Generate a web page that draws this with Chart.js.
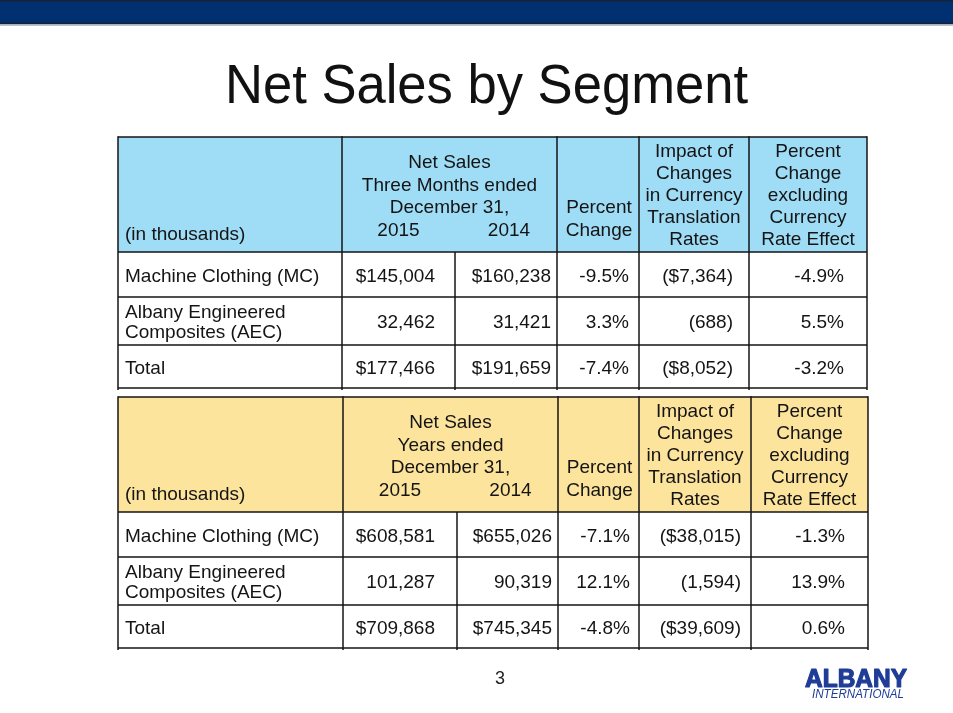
<!DOCTYPE html>
<html>
<head>
<meta charset="utf-8">
<title>Net Sales by Segment</title>
<script src="https://cdn.jsdelivr.net/npm/chart.js@4.4.1/dist/chart.umd.min.js"></script>
<style>
  html, body { margin: 0; padding: 0; background: #fff; }
  #wrap { width: 953px; height: 713px; }
</style>
</head>
<body>
<div id="wrap"><canvas id="slide"></canvas></div>
<script>
// rows of both tables
const segments = [["Machine Clothing (MC)"], ["Albany Engineered", "Composites (AEC)"], ["Total"]];
const dollarRows = [true, false, true];

// three months ended December 31
const quarter2015 = [145004, 32462, 177466];
const quarter2014 = [160238, 31421, 191659];
const quarterPctChange = [-9.5, 3.3, -7.4];
const quarterFxImpact = [-7364, -688, -8052];
const quarterPctExFx = [-4.9, 5.5, -3.2];

// years ended December 31
const year2015 = [608581, 101287, 709868];
const year2014 = [655026, 90319, 745345];
const yearPctChange = [-7.1, 12.1, -4.8];
const yearFxImpact = [-38015, -1594, -39609];
const yearPctExFx = [-1.3, 13.9, 0.6];

// header text
const periodLabels = ["Three Months ended", "Years ended"];
const yearLabels = ["2015", "2014"];
const headNetSales = ["Net Sales", "", "December 31,"];
const headPct = ["Percent", "Change"];
const headFx = ["Impact of", "Changes", "in Currency", "Translation", "Rates"];
const headExFx = ["Percent", "Change", "excluding", "Currency", "Rate Effect"];

function money(v, dollar) {
  const s = (dollar ? "$" : "") + Math.abs(v).toLocaleString("en-US");
  return v < 0 ? "(" + s + ")" : s;
}
function pct(v) { return v.toFixed(1) + "%"; }

// layout (in slide units, mapped through the chart scales)
const tables = [
  { top: 137, headBottom: 252, rowBottoms: [297, 345, 388],
    cols: [118, 342, 455, 557, 639, 749, 867], valueRight: [435, 551, 629, 733, 844],
    fill: "#9fdcf6", period: periodLabels[0],
    cur: quarter2015, prev: quarter2014, chg: quarterPctChange, fx: quarterFxImpact, exfx: quarterPctExFx },
  { top: 397, headBottom: 512, rowBottoms: [557, 605, 648],
    cols: [118, 343, 457, 558, 639, 751, 868], valueRight: [435, 552, 630, 741, 845],
    fill: "#fde49c", period: periodLabels[1],
    cur: year2015, prev: year2014, chg: yearPctChange, fx: yearFxImpact, exfx: yearPctExFx }
];

const FONT = '"Liberation Sans", Arial, sans-serif';
const INK = "#141414";

const slidePlugin = {
  id: "slide",
  afterDraw(chart) {
    const ctx = chart.ctx;
    const X = v => chart.scales.x.getPixelForValue(v);
    const Y = v => chart.scales.y.getPixelForValue(v);

    function text(str, x, y, align, font, color, maxW) {
      ctx.font = font;
      ctx.fillStyle = color || INK;
      ctx.textAlign = align;
      ctx.textBaseline = "alphabetic";
      if (maxW) ctx.fillText(str, X(x), Y(y), maxW);
      else ctx.fillText(str, X(x), Y(y));
    }
    function line(x1, y1, x2, y2, color, w) {
      ctx.beginPath();
      ctx.strokeStyle = color;
      ctx.lineWidth = w;
      ctx.moveTo(X(x1), Y(y1));
      ctx.lineTo(X(x2), Y(y2));
      ctx.stroke();
    }

    ctx.save();
    // top banner
    ctx.fillStyle = "#00306f";
    ctx.fillRect(X(0), Y(1), X(953) - X(0), Y(23) - Y(1));
    line(0, 0.5, 953, 0.5, "#1b1f2e", 1.5);
    line(0, 23.5, 953, 23.5, "#1b1f2e", 1.5);
    line(0, 25, 953, 25, "#a3abbb", 1.5);

    // title
    text("Net Sales by Segment", 486.5, 103, "center", "55px " + FONT, "#111", 523);

    const f = "19px " + FONT;
    tables.forEach(t => {
      const c = t.cols;
      const top = t.top;
      const bottom = t.rowBottoms[t.rowBottoms.length - 1];

      // header fill
      ctx.fillStyle = t.fill;
      ctx.fillRect(X(c[0]), Y(top), X(c[6]) - X(c[0]), Y(t.headBottom) - Y(top));

      // header text
      text("(in thousands)", c[0] + 7, top + 103, "left", f);
      const ns = [headNetSales[0], t.period, headNetSales[2]];
      ns.forEach((s, i) => text(s, (c[1] + c[3]) / 2, top + 31 + i * 22.5, "center", f));
      text(yearLabels[0], (c[1] + c[2]) / 2, top + 99, "center", f);
      text(yearLabels[1], (c[2] + c[3]) / 2 + 3, top + 99, "center", f);
      headPct.forEach((s, i) => text(s, (c[3] + c[4]) / 2 + 1, top + 76 + i * 23, "center", f));
      headFx.forEach((s, i) => text(s, (c[4] + c[5]) / 2, top + 20 + i * 22, "center", f));
      headExFx.forEach((s, i) => text(s, (c[5] + c[6]) / 2, top + 20 + i * 22, "center", f));

      // body
      let prevB = t.headBottom;
      t.rowBottoms.forEach((b, r) => {
        const mid = (prevB + b) / 2;
        const lab = segments[r];
        if (lab.length === 1) text(lab[0], c[0] + 7, mid + 7, "left", f);
        else lab.forEach((s, i) => text(s, c[0] + 7, mid + 7 - 10.3 + i * 20.6, "left", f));
        const vals = [
          money(t.cur[r], dollarRows[r]),
          money(t.prev[r], dollarRows[r]),
          pct(t.chg[r]),
          money(t.fx[r], dollarRows[r]),
          pct(t.exfx[r])
        ];
        vals.forEach((s, i) => text(s, t.valueRight[i], mid + 7, "right", f));
        prevB = b;
      });

      // grid lines
      const lw = 1.5;
      line(c[0], top, c[6], top, INK, lw);
      line(c[0], t.headBottom, c[6], t.headBottom, INK, lw);
      t.rowBottoms.forEach(b => line(c[0], b, c[6], b, INK, lw));
      [0, 1, 3, 4, 5, 6].forEach(i => line(c[i], top - 0.7, c[i], bottom + 2, INK, lw));
      line(c[2], t.headBottom, c[2], bottom + 2, INK, lw);
    });

    // page number
    text("3", 500, 684, "center", "18px " + FONT, "#222");

    // logo
    ctx.lineJoin = "round";
    ctx.font = "bold 25px " + FONT;
    ctx.fillStyle = "#1f3c96";
    ctx.strokeStyle = "#1f3c96";
    ctx.lineWidth = 1.2;
    ctx.textAlign = "left";
    ctx.strokeText("ALBANY", X(805), Y(687), 102);
    ctx.fillText("ALBANY", X(805), Y(687), 102);
    text("INTERNATIONAL", 812, 697.5, "left", "italic 12px " + FONT, "#1f3c96", 92);
    ctx.restore();
  }
};

new Chart(document.getElementById("slide"), {
  type: "scatter",
  data: { datasets: [{ data: [], showLine: false }] },
  options: {
    responsive: true,
    maintainAspectRatio: false,
    animation: false,
    events: [],
    layout: { padding: 0 },
    plugins: { legend: { display: false }, tooltip: { enabled: false } },
    scales: {
      x: { type: "linear", min: 0, max: 953, display: false },
      y: { type: "linear", min: 0, max: 713, reverse: true, display: false }
    }
  },
  plugins: [slidePlugin]
});
</script>
</body>
</html>
